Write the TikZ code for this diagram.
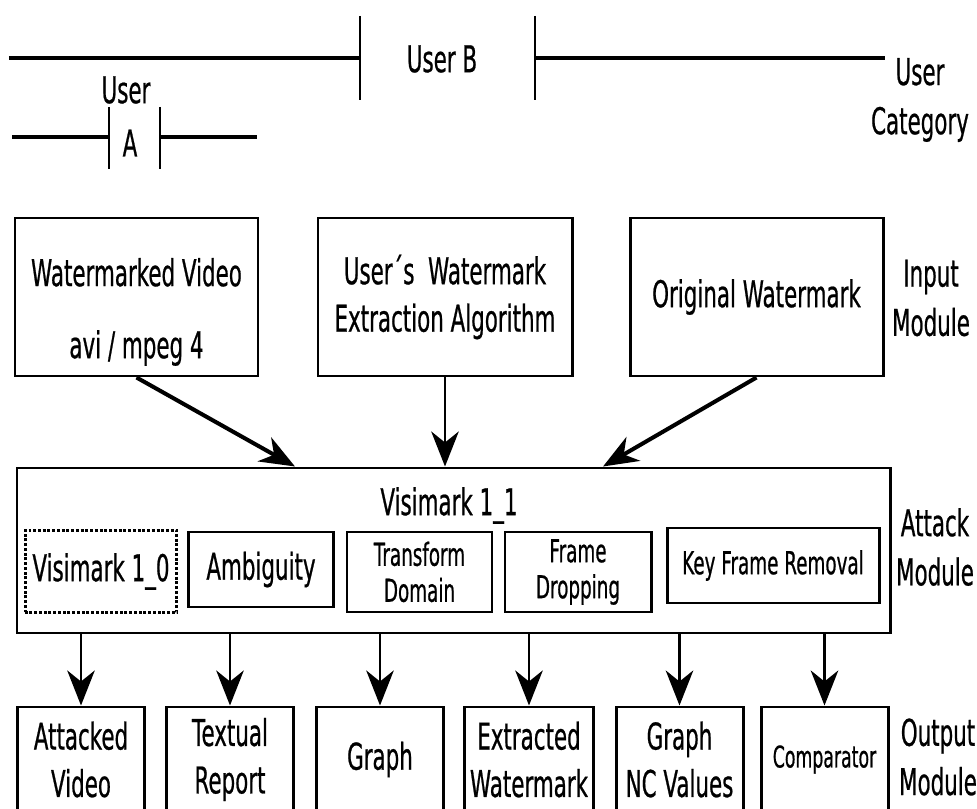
\documentclass[tikz,border=0pt]{standalone}
\usepackage{fontspec}
\setmainfont{DejaVu Sans}[FakeStretch=0.58, FakeBold=0.6]
\usetikzlibrary{arrows.meta}

\begin{document}
\begin{tikzpicture}[
  inbox/.style={rectangle, draw, line width=1.7pt, minimum height=3.16cm,
                align=center, font=\fontsize{21}{27}\selectfont},
  atkbox/.style={rectangle, draw, line width=1.7pt, minimum width=17.46cm,
                 minimum height=3.3cm},
  sub/.style={rectangle, draw, line width=1.7pt, minimum width=2.9cm,
              minimum height=1.58cm, align=center, font=\fontsize{18}{20.5}\selectfont},
  outbox/.style={rectangle, draw, line width=1.7pt, minimum width=2.54cm,
                 minimum height=2.1cm, align=center, font=\fontsize{21}{27}\selectfont},
  side/.style={align=center, font=\fontsize{21}{28}\selectfont},
  lab/.style={font=\fontsize{21}{26}\selectfont},
  bar/.style={line width=2pt},
  tick/.style={line width=1pt},
  arr/.style={line width=1.6pt, -{Stealth[length=0.7cm, width=0.55cm, inset=0.22cm]}},
  darr/.style={line width=2.3pt, -{Stealth[length=0.7cm, width=0.55cm, inset=0.22cm]}},
]
\clip (0,0) rectangle (19.54,16.16);
% ================= user category (top) =====================================
\draw[bar] (0.18,15.0) -- (7.2,15.0);
\draw[tick] (7.2,15.84) -- (7.2,14.16);
\draw[tick] (10.7,15.84) -- (10.7,14.16);
\draw[bar] (10.7,15.0) -- (17.7,15.0);
\node[lab] (userb) at (8.84,14.98) {User B};
\draw[bar] (0.24,13.42) -- (2.18,13.42);
\draw[tick] (2.18,14.02) -- (2.18,12.78);
\draw[tick] (3.2,14.02) -- (3.2,12.78);
\draw[bar] (3.2,13.42) -- (5.14,13.42);
\node[lab] (usera) at (2.52,14.36) {User};
\node[lab] (usera2) at (2.6,13.3) {A};
\node[side] (cat) at (18.4,14.16) {User\\Category};
% ================= input module ============================================
\node[inbox, minimum width=4.86cm] (video) at (2.73,10.22)
  {\rule{0pt}{33pt}Watermarked Video\\[14pt]avi / mpeg 4};
\node[inbox, minimum width=5.08cm] (extract) at (8.9,10.22)
  {User´s\ \ Watermark\\Extraction Algorithm};
\node[inbox, minimum width=5.06cm] (origwm) at (15.13,10.22) {Original Watermark};
\node[side] (inlab) at (18.62,10.2) {Input\\Module};
% ================= attack module ===========================================
\node[atkbox] (attack) at (9.07,5.15) {};
\node[lab] (visi11) at (8.98,6.05) {Visimark 1\_1};
\node[sub, draw=none, font=\fontsize{21}{26}\selectfont, minimum width=2.92cm] (visi10) at (2.02,4.73) {Visimark 1\_0};
\draw[line width=1.7pt, densely dotted] (visi10.south west) rectangle (visi10.north east);
\node[sub, minimum height=1.5cm, font=\fontsize{21}{26}\selectfont] (ambig) at (5.22,4.77) {Ambiguity};
\node[sub, minimum height=1.6cm] (transf) at (8.39,4.72) {Transform\\Domain};
\node[sub, minimum height=1.6cm, minimum width=2.92cm] (frdrop) at (11.56,4.72) {Frame\\Dropping};
\node[sub, minimum height=1.5cm, minimum width=4.24cm] (keyfr) at (15.46,4.85) {Key Frame Removal};
\node[side] (atklab) at (18.7,5.22) {Attack\\Module};
% input -> attack
\draw[darr] (video.south) -- ([xshift=-3.17cm]attack.north);
\draw[arr] (extract.south) -- (extract.south |- attack.north);
\draw[darr] (origwm.south) -- ([xshift=2.99cm]attack.north);
% ================= output module ===========================================
\node[outbox] (atkvid) at (1.62,0.97) {Attacked\\Video};
\node[outbox] (report) at (4.6,0.97) {Textual\\Report};
\node[outbox] (graph) at (7.6,0.97) {Graph};
\node[outbox] (extwm) at (10.58,0.97) {Extracted\\Watermark};
\node[outbox] (ncval) at (13.59,0.97) {Graph\\NC Values};
\node[outbox, font=\fontsize{17}{24}\selectfont] (compar) at (16.49,0.97) {Comparator};
\node[side] (outlab) at (18.76,1.02) {Output\\Module};
\foreach \o in {atkvid, report, graph, extwm, ncval, compar}
  \draw[arr] (\o.north |- attack.south) -- (\o.north);
\end{tikzpicture}
\end{document}
